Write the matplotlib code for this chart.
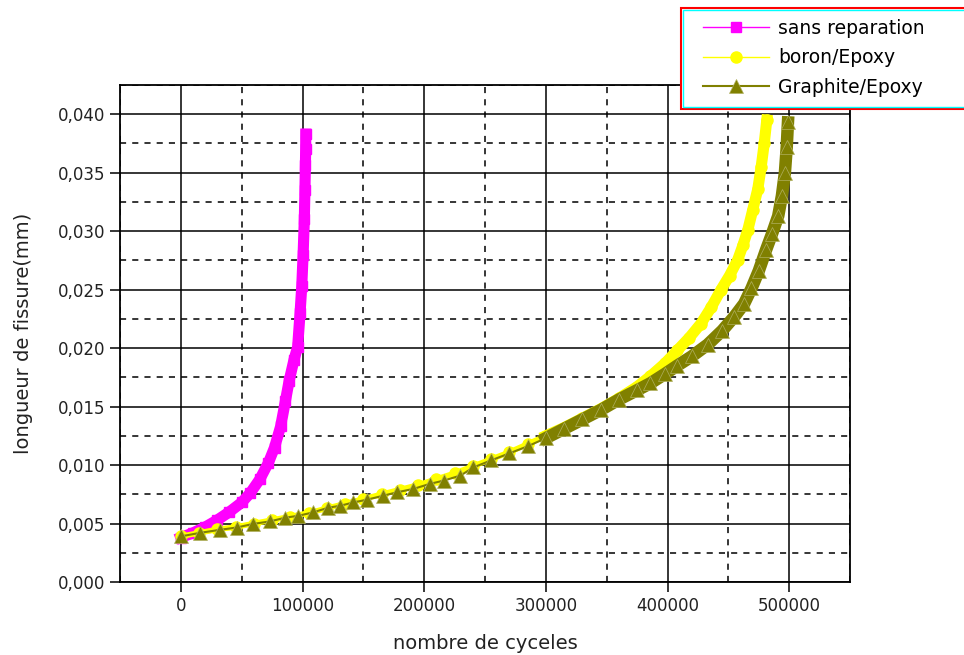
import numpy as np
import matplotlib.pyplot as plt
from matplotlib.patches import Rectangle
from matplotlib.ticker import MultipleLocator, FuncFormatter

# Données
x_sans = [0, 10000, 20000, 30000, 40000, 50000, 57000, 65000, 72000, 77000,
          82000, 86000, 89000, 93000, 96000, 98000, 99400, 100500, 101500,
          102000, 102400, 102600, 102700]
y_sans = [0.0038, 0.0042, 0.0047, 0.0053, 0.0060, 0.0068, 0.0076, 0.0088,
          0.0102, 0.0115, 0.0133, 0.0155, 0.0172, 0.0190, 0.0201, 0.0230,
          0.0253, 0.0280, 0.0310, 0.0335, 0.0357, 0.0370, 0.0383]

x_boron = [0, 15000, 30000, 45000, 60000, 75000, 90000, 105000, 120000, 135000,
           150000, 165000, 180000, 195000, 210000, 225000, 240000, 255000,
           270000, 285000, 300000, 315000, 330000, 345000, 360000, 375000,
           386000, 398000, 408000, 418000, 427500, 436000, 444000, 451000,
           457700, 462000, 466000, 470000, 474200, 477000, 479500, 481600]
y_boron = [0.0039, 0.0042, 0.0045, 0.0047, 0.0050, 0.0053, 0.0056, 0.0059,
           0.0063, 0.0067, 0.0071, 0.0075, 0.0079, 0.0083, 0.0088, 0.0093,
           0.0099, 0.0105, 0.0111, 0.0118, 0.0125, 0.0132, 0.0140, 0.0148,
           0.0157, 0.0167, 0.0176, 0.0187, 0.0198, 0.0209, 0.0221, 0.0235,
           0.0250, 0.0262, 0.02755, 0.0288, 0.0301, 0.0318, 0.0336, 0.0355,
           0.0375, 0.0395]

x_graph = [0, 15600, 32000, 45900, 59500, 73300, 85700, 96400, 108700, 121000,
           131000, 141700, 153000, 166400, 177700, 191100, 205000, 216000,
           229800, 240500, 255000, 270000, 285000, 300000, 315000, 330000,
           345000, 360000, 375000, 386000, 398000, 408000, 420000, 433000,
           445000, 455000, 463000, 469000, 475000, 481000, 486000, 491000,
           494000, 496500, 498000, 499000]
y_graph = [0.0039, 0.0042, 0.00446, 0.00466, 0.00497, 0.00518, 0.0055, 0.00566,
           0.00595, 0.00635, 0.00652, 0.0068, 0.00704, 0.00738, 0.00767,
           0.00796, 0.0084, 0.00867, 0.0091, 0.0098, 0.0104, 0.0110, 0.0116,
           0.0123, 0.0131, 0.0139, 0.0147, 0.0156, 0.0164, 0.0170, 0.0178,
           0.0185, 0.0193, 0.0203, 0.0215, 0.0227, 0.0238, 0.0251, 0.0266,
           0.0284, 0.0298, 0.0313, 0.0330, 0.0350, 0.0372, 0.0393]

magenta = '#ff00ff'
jaune = '#ffff00'
olive = '#808000'

fig = plt.figure(figsize=(9.64, 6.55), dpi=100)
ax = fig.add_axes([120/964, 1-582/655, 730/964, 497/655])

# bandes épaisses (points très serrés sur l'original)
ax.plot(x_sans, y_sans, color=magenta, lw=8, zorder=3)
xb = np.array(x_boron)
yb = np.array(y_boron)
ax.plot(xb, yb, color=jaune, lw=4, zorder=4)
ax.plot(xb[yb > 0.012], yb[yb > 0.012], color=jaune, lw=8, zorder=4)
xg = np.array(x_graph)
yg = np.array(y_graph)
ax.plot(xg[yg > 0.012], yg[yg > 0.012], color=olive, lw=9, zorder=5)

ax.plot(x_sans, y_sans, color=magenta, lw=1, marker='s', ms=7,
        label='sans reparation', zorder=3)
ax.plot(x_boron, y_boron, color=jaune, lw=1, marker='o', ms=8,
        label='boron/Epoxy', zorder=4)
ax.plot(x_graph, y_graph, color=olive, lw=1.5, marker='^', ms=10,
        mec='#b0b060', mew=0.5, label='Graphite/Epoxy', zorder=5)

ax.set_xlim(-50000, 550000)
ax.set_ylim(0, 0.0425)
ax.xaxis.set_major_locator(MultipleLocator(100000))
ax.xaxis.set_minor_locator(MultipleLocator(50000))
ax.yaxis.set_major_locator(MultipleLocator(0.005))
ax.yaxis.set_minor_locator(MultipleLocator(0.0025))
ax.xaxis.set_major_formatter(FuncFormatter(lambda v, p: f"{int(v)}" if v >= 0 else ""))
ax.yaxis.set_major_formatter(FuncFormatter(lambda v, p: f"{v:.3f}".replace('.', ',')))

ax.grid(which='major', color='black', lw=1.1, ls='-')
ax.grid(which='minor', color='black', lw=1.1, ls=(0, (4, 4)))
ax.set_axisbelow(True)
ax.tick_params(which='major', direction='out', length=7, width=1.1,
               labelsize=12, labelcolor='#222222')
ax.tick_params(which='minor', length=0)
for s in ax.spines.values():
    s.set_linewidth(1.3)

ax.set_xlabel('nombre de cyceles', fontsize=14, color='#222222', labelpad=14)
ax.set_ylabel('longueur de fissure(mm)', fontsize=14, color='#222222', labelpad=18)

# cadre de la légende
fig.add_artist(Rectangle((681/964, 1-109/655), 0.4, 101/655, transform=fig.transFigure,
                         facecolor='white', edgecolor='red', lw=1.5, zorder=2))
fig.add_artist(Rectangle((683/964, 1-107/655), 0.4, 97/655, transform=fig.transFigure,
                         facecolor='none', edgecolor='cyan', lw=1, zorder=2))
h, l = ax.get_legend_handles_labels()
fig.legend(h, l, loc='upper left', bbox_to_anchor=(703/964, 1-19/655),
           frameon=False, fontsize=13.5, handlelength=3.5, handletextpad=0.5,
           labelspacing=0.55, borderpad=0, borderaxespad=0)

plt.savefig('out.png', dpi=100)
